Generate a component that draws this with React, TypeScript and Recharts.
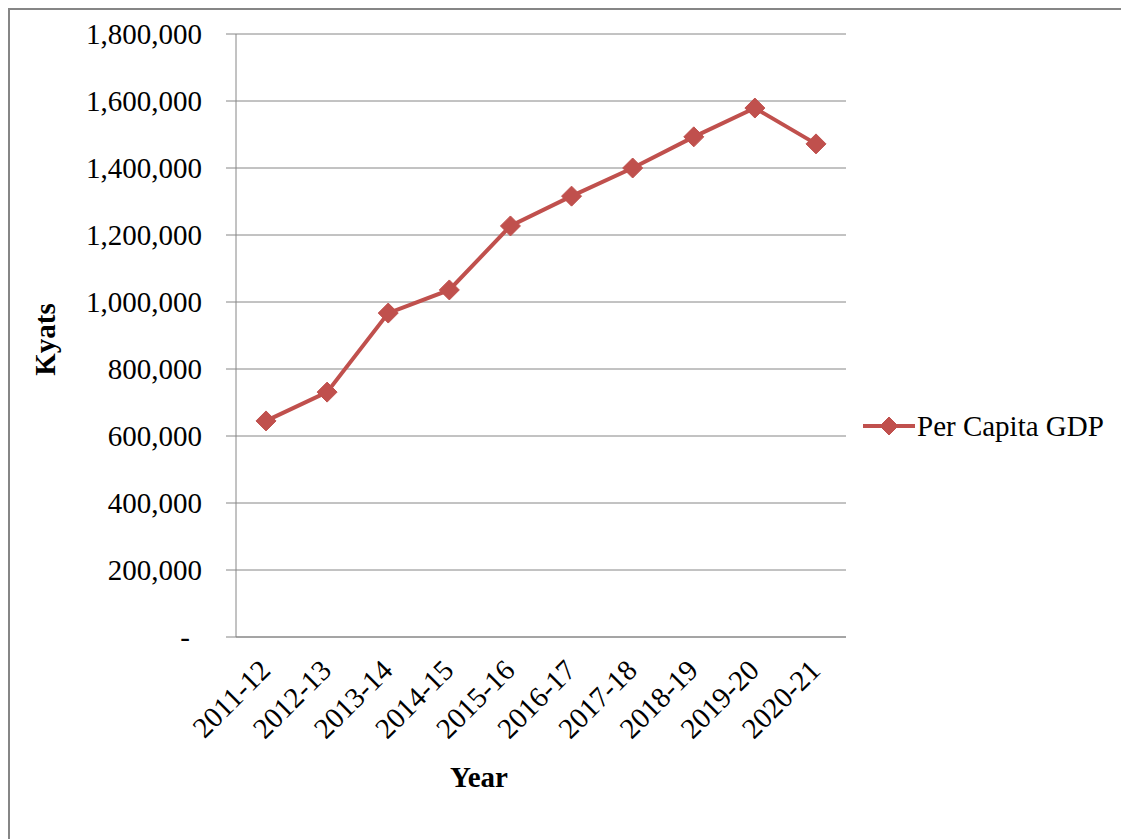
import { LineChart, Line, XAxis, YAxis, CartesianGrid, Legend } from 'recharts';

const years = ['2011-12', '2012-13', '2013-14', '2014-15', '2015-16', '2016-17', '2017-18', '2018-19', '2019-20', '2020-21'];
const perCapitaGdp = [645000, 731000, 967000, 1036000, 1227000, 1316000, 1400000, 1493000, 1579000, 1472000];
const yTicks = [0, 200000, 400000, 600000, 800000, 1000000, 1200000, 1400000, 1600000, 1800000];

const data = years.map((year, i) => ({ year, gdp: perCapitaGdp[i] }));

const FONT = '"Liberation Serif", "Times New Roman", serif';
const RED = '#C0504D';
const GRAY = '#868686';

const Diamond = ({ cx, cy, r = 10 }: any) => (
  <polygon
    points={`${cx},${cy - r} ${cx + r},${cy} ${cx},${cy + r} ${cx - r},${cy}`}
    fill={RED}
    stroke={RED}
    strokeWidth={1}
  />
);

const YTick = ({ x, y, payload }: any) => {
  const zero = payload.value === 0;
  return (
    <text x={zero ? x - 12 : x} y={y} dy="0.355em" textAnchor="end" fontSize={29} fontFamily={FONT} fill="#000">
      {zero ? '-' : Number(payload.value).toLocaleString('en-US')}
    </text>
  );
};

const XTick = ({ x, y, payload }: any) => {
  const tx = x + 6;
  const ty = y + 35;
  return (
    <text x={tx} y={ty} transform={`rotate(-45, ${tx}, ${ty})`} textAnchor="end" fontSize={29} fontFamily={FONT} fill="#000">
      {payload.value}
    </text>
  );
};

const YearLabel = ({ viewBox }: any) => (
  <text x={viewBox.x + viewBox.width / 2 - 62} y={viewBox.y + 150} textAnchor="middle" fontSize={29} fontWeight="bold" fontFamily={FONT} fill="#000">
    Year
  </text>
);

const KyatsLabel = ({ viewBox }: any) => {
  const lx = viewBox.x + 45;
  const ly = viewBox.y + viewBox.height / 2 + 4;
  return (
    <text x={lx} y={ly} transform={`rotate(-90, ${lx}, ${ly})`} textAnchor="middle" fontSize={29} fontWeight="bold" fontFamily={FONT} fill="#000">
      Kyats
    </text>
  );
};

const LegendContent = () => (
  <div style={{ display: 'flex', alignItems: 'center', height: 40, fontFamily: FONT, fontSize: 29, color: '#000' }}>
    <svg width={52} height={24}>
      <line x1={0} y1={12} x2={52} y2={12} stroke={RED} strokeWidth={4} />
      <Diamond cx={26} cy={12} r={9} />
    </svg>
    <span style={{ marginLeft: 2, lineHeight: '40px' }}>Per Capita GDP</span>
  </div>
);

export default function App() {
  return (
    <div
      style={{
        position: 'relative',
        width: 1121,
        height: 831,
        boxSizing: 'border-box',
        borderTop: `2px solid ${GRAY}`,
        borderLeft: `2px solid ${GRAY}`,
        background: '#fff',
      }}
    >
      <LineChart width={1119} height={829} data={data} margin={{ top: 24, right: 283, bottom: 0, left: 0 }}>
        <CartesianGrid horizontal vertical={false} stroke={GRAY} strokeWidth={1} />
        <XAxis
          dataKey="year"
          height={202}
          padding={{ left: 30, right: 30 }}
          axisLine={{ stroke: GRAY }}
          tickLine={false}
          tickSize={0}
          tickMargin={0}
          interval={0}
          tick={<XTick />}
          label={<YearLabel />}
        />
        <YAxis
          width={226}
          domain={[0, 1800000]}
          ticks={yTicks}
          axisLine={{ stroke: GRAY }}
          tickLine={{ stroke: GRAY }}
          tickSize={10}
          tickMargin={24}
          tick={<YTick />}
          label={<KyatsLabel />}
        />
        <Legend
          layout="horizontal"
          align="center"
          verticalAlign="middle"
          content={<LegendContent />}
          wrapperStyle={{ left: 853, top: 396, right: 'auto', bottom: 'auto', width: 'auto' }}
        />
        <Line
          dataKey="gdp"
          name="Per Capita GDP"
          type="linear"
          stroke={RED}
          strokeWidth={4}
          dot={(p: any) => <Diamond key={p.index} cx={p.cx} cy={p.cy} />}
          activeDot={false}
          isAnimationActive={false}
        />
      </LineChart>
    </div>
  );
}
